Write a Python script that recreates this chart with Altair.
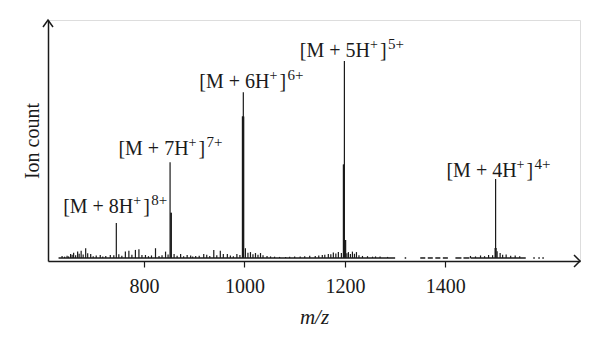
import altair as alt
import pandas as pd

# ---- data ----
peak_mz = [745, 852, 853.5, 854.5, 996, 997, 997.8, 998.6, 1197, 1198, 1199, 1200.5, 1201.5, 1499, 1500, 1501, 1503]
peak_h = [15.8, 41, 20, 20, 60, 60, 70, 60, 40, 40, 83, 8.7, 8.7, 5.4, 34, 5.4, 4]

noise_mz = [637, 654, 660, 668, 675, 684, 694, 713, 733, 763, 770, 783, 790, 803, 823, 843,
            873, 886, 903, 919, 939, 952, 966, 985, 1002, 1012, 1022, 1032, 1052, 1082, 1111,
            1141, 1155, 1167, 1177, 1187, 1193, 1207, 1215, 1223, 1235, 1261, 1450, 1470,
            1486, 1509, 1521, 1539,
            642, 647, 650, 657, 664, 671, 679, 688, 699, 705, 718, 724, 740, 750, 756, 776,
            796, 809, 815, 830, 836, 848, 860, 866, 879, 893, 897, 910, 925, 931, 945, 958,
            972, 978, 991, 1007, 1017, 1027, 1037, 1045, 1060, 1070, 1090, 1100, 1120, 1130,
            1148, 1160, 1172, 1182, 1204, 1211, 1219, 1228, 1245, 1255, 1270, 1285, 1460,
            1478, 1494, 1514, 1530, 1548]
noise_h = [2.1, 2.9, 3.4, 3.9, 4.3, 5.3, 2.9, 2.5, 2.5, 3.9, 4.3, 4.6, 4.9, 2.5, 5.3, 3.9,
           2.9, 2.5, 2.1, 2.9, 4.6, 4.3, 2.9, 2.9, 5.3, 3.7, 3.3, 3.3, 1.9, 1.7, 1.9,
           2.1, 2.5, 2.9, 3.5, 3.7, 3.3, 3.7, 3.9, 3.7, 2.1, 1.9, 2.1, 2.3,
           2.5, 3.3, 2.7, 2.3,
           1.8, 2.2, 1.9, 2.6, 2.4, 3.0, 2.7, 3.2, 2.0, 2.3, 1.9, 2.1, 2.4, 2.8, 2.2, 2.6,
           2.5, 2.0, 2.3, 2.1, 2.4, 2.7, 2.9, 2.2, 2.0, 2.3, 1.9, 2.2, 2.6, 2.1, 2.4, 2.9,
           2.3, 2.0, 2.5, 3.4, 2.8, 2.6, 2.4, 2.1, 1.8, 1.7, 1.8, 1.9, 2.0, 2.2,
           2.3, 2.6, 2.8, 3.1, 3.2, 2.9, 3.0, 2.4, 2.0, 1.8, 1.9, 1.7, 1.9,
           2.0, 2.4, 2.6, 2.2, 2.0]

base_start = [630, 1319, 1350, 1365, 1380, 1395, 1420, 1436, 1450, 1575, 1585, 1593]
base_end = [1300, 1322, 1360, 1375, 1390, 1405, 1432, 1448, 1560, 1578, 1588, 1596]

label_core = ["[M + 8H", "[M + 7H", "[M + 6H", "[M + 5H", "[M + 4H"]
label_charge = ["8+", "7+", "6+", "5+", "4+"]
label_mz = [745, 855, 1016, 1216, 1508]
label_y = [19.9, 44, 71.8, 84.6, 34.9]

x_ticks = [800, 1000, 1200, 1400]
X_MIN, X_MAX = 609, 1668
Y_MIN, Y_MAX = 0, 100
BASE = 1.25

FONT = "Liberation Serif"
INK = "#1a1a1a"

xscale = alt.Scale(domain=[X_MIN, X_MAX], nice=False, zero=False)
yscale = alt.Scale(domain=[Y_MIN, Y_MAX], nice=False, zero=False)

sticks = pd.DataFrame({"mz": peak_mz + noise_mz, "h": peak_h + noise_h})
baseline = pd.DataFrame({"a": base_start, "b": base_end})
labels = pd.DataFrame({"core": label_core, "charge": label_charge,
                       "mz": label_mz, "y": label_y})
arrows = pd.DataFrame({"x": [X_MAX, X_MIN], "y": [Y_MIN, Y_MAX], "k": ["r", "u"]})

axes = alt.Chart(pd.DataFrame({"mz": [X_MIN], "h": [Y_MIN]})).mark_point(opacity=0).encode(
    x=alt.X("mz:Q", scale=xscale,
            axis=alt.Axis(title="m/z", values=x_ticks, format="d", grid=False,
                          domainColor=INK, domainWidth=1.5, tickColor=INK, tickSize=6,
                          tickWidth=1.2, labelFont=FONT, labelFontSize=20, labelColor=INK,
                          labelPadding=9, titleFont=FONT, titleFontSize=21,
                          titleFontStyle="italic", titleFontWeight="normal",
                          titleColor=INK, titlePadding=10)),
    y=alt.Y("h:Q", scale=yscale,
            axis=alt.Axis(title="Ion count", ticks=False, labels=False, grid=False,
                          domainColor=INK, domainWidth=1.5, titleFont=FONT,
                          titleFontSize=20, titleFontWeight="normal", titleColor=INK,
                          titlePadding=6)),
)

base_layer = alt.Chart(baseline).mark_rule(color=INK, strokeWidth=1.5).encode(
    x=alt.X("a:Q", scale=xscale), x2="b:Q", y=alt.datum(BASE, scale=yscale)
)

stick_layer = alt.Chart(sticks).mark_rule(color=INK, strokeWidth=1.2).encode(
    x=alt.X("mz:Q", scale=xscale), y=alt.Y("h:Q", scale=yscale), y2=alt.datum(BASE)
)

lbl = alt.Chart(labels)
enc = dict(x=alt.X("mz:Q", scale=xscale), y=alt.Y("y:Q", scale=yscale))
core_layer = lbl.mark_text(font=FONT, fontSize=20, color=INK, align="right",
                           baseline="alphabetic", dx=17).encode(text="core:N", **enc)
plus_layer = lbl.mark_text(font=FONT, fontSize=14, color=INK, align="left",
                           baseline="alphabetic", dx=17, dy=-8).encode(text=alt.value("+"), **enc)
brak_layer = lbl.mark_text(font=FONT, fontSize=20, color=INK, align="left",
                           baseline="alphabetic", dx=27).encode(text=alt.value("]"), **enc)
chg_layer = lbl.mark_text(font=FONT, fontSize=15, color=INK, align="left",
                          baseline="alphabetic", dx=35, dy=-8).encode(text="charge:N", **enc)

arrow_r = alt.Chart(arrows[arrows.k == "r"]).mark_point(
    shape="M -1 -1 L 0 0 L -1 1", size=144, filled=False, stroke=INK, strokeWidth=1.5,
    opacity=1, clip=False
).encode(x=alt.X("x:Q", scale=xscale), y=alt.Y("y:Q", scale=yscale))

arrow_u = alt.Chart(arrows[arrows.k == "u"]).mark_point(
    shape="M -1 1.4 L 0 0 L 1 1.4", size=100, filled=False, stroke=INK, strokeWidth=1.5,
    opacity=1, clip=False
).encode(x=alt.X("x:Q", scale=xscale), y=alt.Y("y:Q", scale=yscale))

chart = alt.layer(axes, base_layer, stick_layer, core_layer, plus_layer, brak_layer,
                  chg_layer, arrow_r, arrow_u).properties(
    width=532, height=241,
    autosize=alt.AutoSizeParams(type="none"),
    padding={"left": 48, "top": 20, "right": 20, "bottom": 90},
).configure_view(stroke=None).configure(background="white")

chart.save("out.html", embed_options={"renderer": "svg", "actions": False})
